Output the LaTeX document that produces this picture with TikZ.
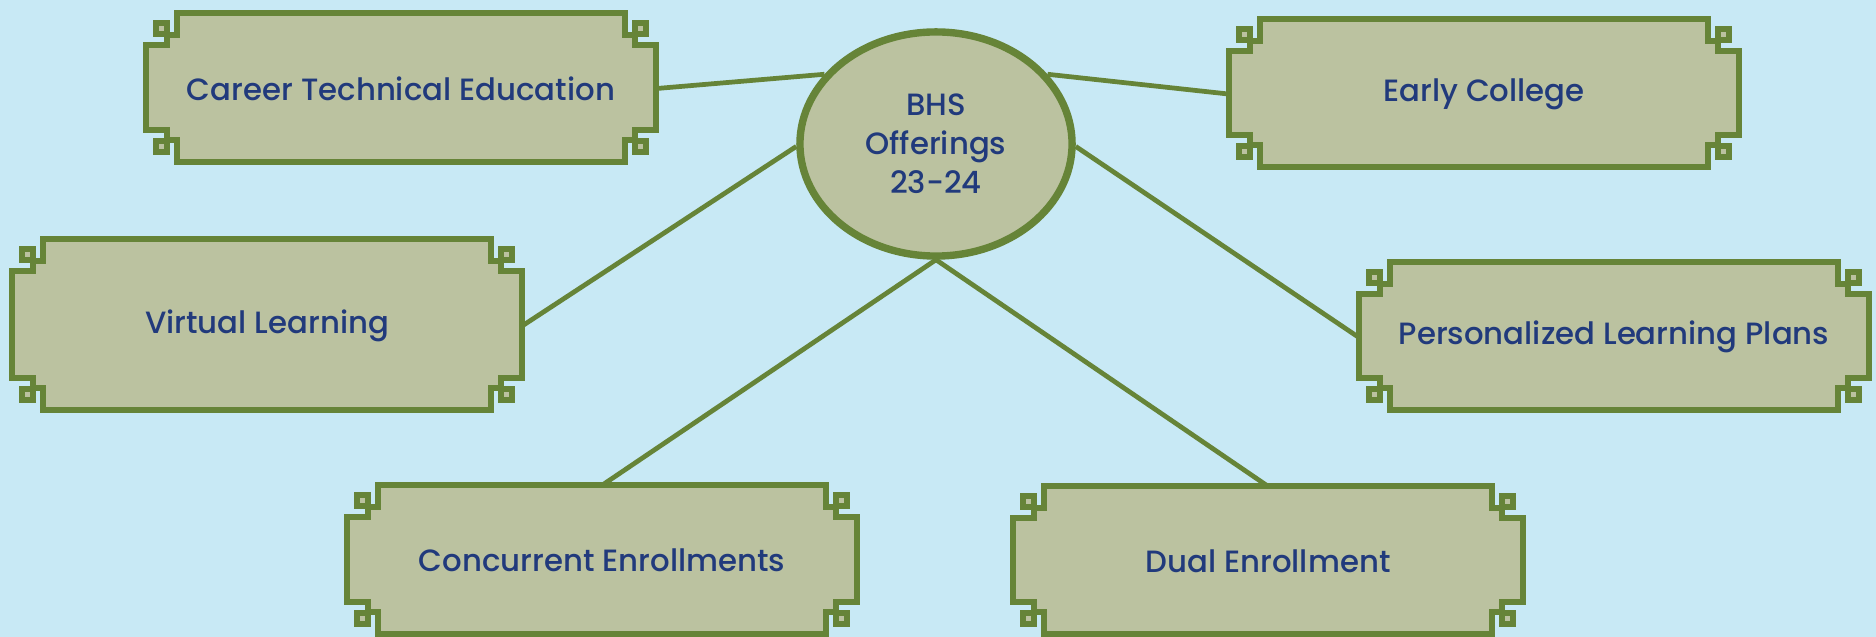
\documentclass[tikz,border=0pt]{standalone}
\usepackage{fontspec}
\setmainfont{Poppins}[UprightFont=* Medium, BoldFont=* SemiBold]
\usepackage{xcolor}
\usepackage{tikz}
\usetikzlibrary{shapes.geometric}

\definecolor{skyback}{RGB}{200,233,245}
\definecolor{sagefill}{RGB}{187,194,160}
\definecolor{olivestroke}{RGB}{102,132,56}
\definecolor{navytext}{RGB}{33,58,124}

\tikzset{
	offer/.style={minimum width=5.1cm, inner sep=0pt, text=navytext,
		font=\fontsize{8.75}{11.1}\selectfont},
	framed/.style={draw=olivestroke, fill=sagefill, line width=1.55pt},
	link/.style={draw=olivestroke, line width=1.35pt},
}

% name, centre x, centre y, height, text
\newcommand{\offerbox}[5]{%
	\begin{scope}[shift={(#2-255,#3-#4/2)}]
		\draw[framed] (31,0) -- (479,0) -- (479,22) -- (489,22) -- (489,32) -- (510,32)
			-- (510,#4-32) -- (489,#4-32) -- (489,#4-22) -- (479,#4-22) -- (479,#4)
			-- (31,#4) -- (31,#4-22) -- (21,#4-22) -- (21,#4-32) -- (0,#4-32)
			-- (0,32) -- (21,32) -- (21,22) -- (31,22) -- cycle;
		\draw[framed] (10,10) rectangle (21,21);
		\draw[framed] (489,10) rectangle (500,21);
		\draw[framed] (10,#4-21) rectangle (21,#4-10);
		\draw[framed] (489,#4-21) rectangle (500,#4-10);
	\end{scope}
	\node[offer, minimum height=#4*0.01cm] (#1) at (#2,#3+1) {#5};
}

\begin{document}
\begin{tikzpicture}[x=0.01cm, y=-0.01cm]
	\fill[skyback] (0,0) rectangle (1876,637);
	
	\offerbox{cte}{401}{87.5}{149}{Career Technical Education}
	\offerbox{ec}{1484}{93}{148}{Early College}
	\offerbox{vl}{267}{324.5}{171}{Virtual Learning}
	\offerbox{plp}{1614}{336}{148}{Personalized Learning Plans}
	\offerbox{ce}{602}{559.5}{149}{Concurrent Enrollments}
	\offerbox{de}{1268}{560}{148}{Dual Enrollment}
	
	\node[ellipse, draw=olivestroke, fill=sagefill, line width=2.1pt,
		minimum width=2.72cm, minimum height=2.24cm, inner sep=0pt,
		align=center, text=navytext, font=\fontsize{8.75}{11.1}\selectfont]
		(bhs) at (936,144) {BHS\\Offerings\\23-24};
	
	\draw[link] (bhs.148) -- (cte.east);
	\draw[link] (bhs.32) -- (ec.west);
	\draw[link] (bhs.181) -- (vl.east);
	\draw[link] (bhs.359) -- (plp.west);
	\draw[link] (bhs.south) -- (ce.north);
	\draw[link] (bhs.south) -- (de.north);
\end{tikzpicture}
\end{document}
